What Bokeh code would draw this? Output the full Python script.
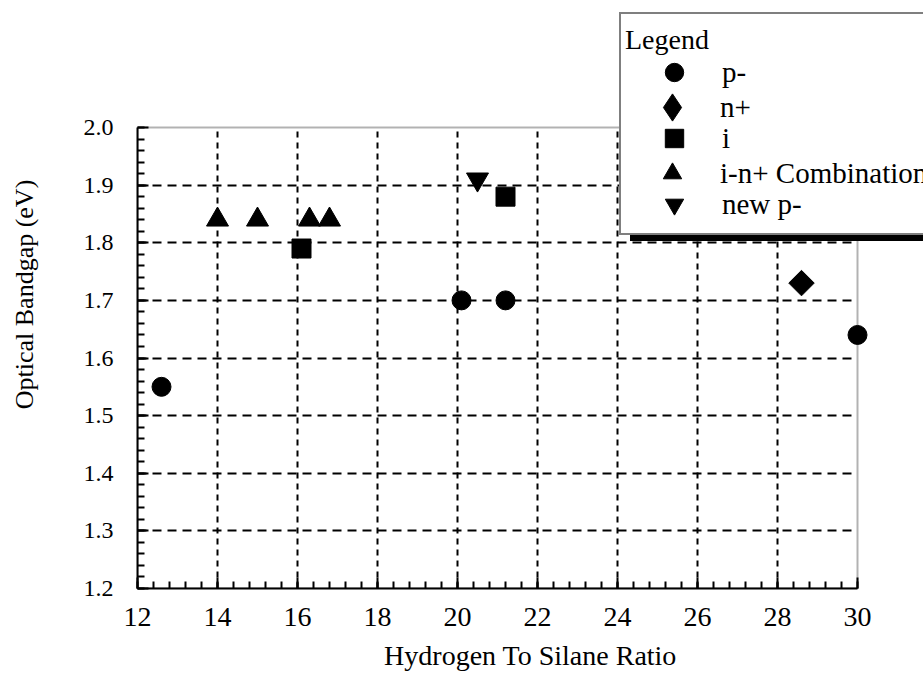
import numpy as np
from bokeh.plotting import figure
from bokeh.models import FixedTicker, PrintfTickFormatter, BoxAnnotation, Legend, LegendItem
from bokeh.embed import file_html
from bokeh.resources import INLINE

# ---- data ----
p_minus_x = [12.6, 20.1, 21.2, 30.0]
p_minus_y = [1.55, 1.70, 1.70, 1.64]
n_plus_x = [28.6]
n_plus_y = [1.73]
i_x = [16.1, 21.2]
i_y = [1.79, 1.88]
i_n_comb_x = [14.0, 15.0, 16.3, 16.8]
i_n_comb_y = [1.84, 1.84, 1.84, 1.84]
new_p_x = [20.5]
new_p_y = [1.91]

series_labels = ["p-", "n+", "i", "i-n+ Combination", "new p-"]
legend_title = "Legend"

x_ticks = [12, 14, 16, 18, 20, 22, 24, 26, 28, 30]
y_ticks = [1.2, 1.3, 1.4, 1.5, 1.6, 1.7, 1.8, 1.9, 2.0]
x_minor = [round(v, 2) for v in np.arange(12, 30.001, 0.4)]
y_minor = [round(v, 3) for v in np.arange(1.2, 2.0001, 0.02)]
X_LIM = (12, 30)
Y_LIM = (1.2, 2.0)

SERIF = "Liberation Serif"
NBSP_WIDE = "\u00a0" * 80   # invisible spacer: makes the legend box run past the right edge

# frame spans to the top and right canvas edges so the legend box is not clipped
p = figure(width=923, height=683, x_range=(12, 31.65), y_range=(1.2, 2.2204),
           output_backend="svg", toolbar_location=None,
           min_border_left=137, min_border_right=0, min_border_top=0,
           min_border_bottom=95, outline_line_color=None,
           background_fill_color="white", border_fill_color="white")

# axes
xa = p.xaxis[0]
xa.ticker = FixedTicker(ticks=x_ticks, minor_ticks=x_minor)
xa.formatter = PrintfTickFormatter(format="%d")
xa.bounds = X_LIM
ya = p.yaxis[0]
ya.ticker = FixedTicker(ticks=y_ticks, minor_ticks=y_minor)
ya.formatter = PrintfTickFormatter(format="%.1f")
ya.bounds = Y_LIM
for ax in (xa, ya):
    ax.axis_line_width = 2
    ax.axis_line_color = "black"
    ax.major_tick_in = 11
    ax.major_tick_out = 0
    ax.minor_tick_in = 7
    ax.minor_tick_out = 0
    ax.major_tick_line_width = 2
    ax.minor_tick_line_width = 2
    ax.major_tick_line_color = "black"
    ax.minor_tick_line_color = "black"
    ax.major_label_text_color = "black"
    ax.major_label_text_font = SERIF
    ax.axis_label_text_font = SERIF
    ax.axis_label_text_font_style = "normal"
    ax.axis_label_text_color = "black"

xa.major_label_text_font_size = "28px"
xa.major_label_standoff = 19
xa.axis_label = "Hydrogen To Silane Ratio"
xa.axis_label_text_font_size = "28px"
xa.axis_label_standoff = 11

ya.major_label_text_font_size = "24px"
ya.major_label_standoff = 24
ya.axis_label = "Optical Bandgap (eV)"
ya.axis_label_text_font_size = "26px"
ya.axis_label_standoff = 42

# grid
p.xgrid.ticker = FixedTicker(ticks=x_ticks[1:-1])
p.ygrid.ticker = FixedTicker(ticks=y_ticks[1:-1])
p.xgrid.cross_bounds = Y_LIM
p.ygrid.cross_bounds = X_LIM
p.xgrid.grid_line_color = "black"
p.xgrid.grid_line_width = 2
p.xgrid.grid_line_dash = "6 5"
p.ygrid.grid_line_color = "black"
p.ygrid.grid_line_width = 2
p.ygrid.grid_line_dash = "9 6"

# plot box (top and right borders)
p.add_layout(BoxAnnotation(left=X_LIM[0], right=X_LIM[1], bottom=Y_LIM[0], top=Y_LIM[1],
                           fill_alpha=0, line_color="black", line_width=2))

# series
r_p = p.scatter(p_minus_x, p_minus_y, marker="circle", size=19, color="black")
r_n = p.scatter(n_plus_x, n_plus_y, marker="square", angle=np.pi / 4, size=18, color="black")
r_i = p.scatter(i_x, i_y, marker="square", size=19, color="black")
r_c = p.scatter(i_n_comb_x, i_n_comb_y, marker="triangle", size=22, color="black")
r_np = p.scatter(new_p_x, new_p_y, marker="inverted_triangle", size=22, color="black")
# legend key for n+ (legend keys are never rotated, so use the diamond marker there);
# its single point is NaN so nothing is drawn in the plot area
r_n_key = p.scatter([np.nan], [np.nan], marker="diamond", size=25, color="black")

common = dict(padding=6, spacing=20, glyph_width=94, glyph_height=46,
              label_standoff=1, label_height=20,
              border_line_color="black", border_line_width=2,
              label_text_font=SERIF, label_text_font_size="29px",
              label_text_color="black",
              title_text_font=SERIF, title_text_font_size="23px",
              title_text_font_style="normal", title_text_color="black",
              title_standoff=3)

# drop shadow of the legend box
shadow = Legend(items=[LegendItem(label=" ", renderers=[r]) for r in (r_p, r_i, r_np)],
                location=(482 + 11, 353 - 6), title=NBSP_WIDE,
                background_fill_color="black", background_fill_alpha=1.0, **common)
p.add_layout(shadow)

# legend box with rows 1, 3, 5
leg_a = Legend(items=[LegendItem(label=series_labels[0], renderers=[r_p]),
                      LegendItem(label=series_labels[2], renderers=[r_i]),
                      LegendItem(label=series_labels[4], renderers=[r_np])],
               location=(482, 353), title=NBSP_WIDE,
               background_fill_color="white", background_fill_alpha=1.0, **common)
p.add_layout(leg_a)

# transparent overlay: title + row 2
common_c = dict(common)
common_c.update(border_line_color="white", glyph_height=68, title_standoff=17,
                title_text_font_size="28px")
leg_c = Legend(items=[LegendItem(label=series_labels[1], renderers=[r_n_key])],
               location=(482, 588 - 147), title=legend_title, border_line_alpha=0.0,
               background_fill_alpha=0.0, **common_c)
p.add_layout(leg_c)

# transparent overlay: row 4
common_b = dict(common)
common_b.update(border_line_color="white")
leg_b = Legend(items=[LegendItem(label=series_labels[3], renderers=[r_c])],
               location=(482, 588 - 202), border_line_alpha=0.0,
               background_fill_alpha=0.0, **common_b)
p.add_layout(leg_b)

open("out.html", "w").write(file_html(p, INLINE))
